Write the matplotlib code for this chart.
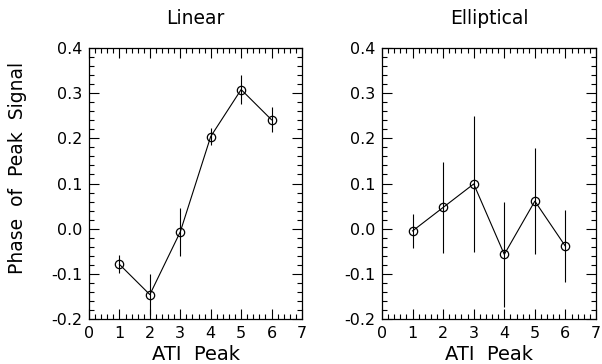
import matplotlib
matplotlib.use("Agg")
import matplotlib.pyplot as plt
from matplotlib.ticker import MultipleLocator, FormatStrFormatter

peaks = [1, 2, 3, 4, 5, 6]
linear_phase = [-0.079, -0.146, -0.007, 0.204, 0.308, 0.241]
linear_err = [0.020, 0.045, 0.053, 0.019, 0.032, 0.028]
elliptical_phase = [-0.005, 0.047, 0.099, -0.057, 0.061, -0.039]
elliptical_err = [0.037, 0.100, 0.150, 0.117, 0.117, 0.080]
titles = ["Linear", "Elliptical"]
xticks = [0, 1, 2, 3, 4, 5, 6, 7]

plt.rcParams['font.family'] = ['DejaVu Sans']
fig = plt.figure(figsize=(6.02, 3.64), dpi=100)
ax1 = fig.add_axes([89/602, 1-319/364, 213/602, 271/364])
ax2 = fig.add_axes([382/602, 1-319/364, 214/602, 271/364])

for ax, title, y, e in [(ax1, titles[0], linear_phase, linear_err),
                        (ax2, titles[1], elliptical_phase, elliptical_err)]:
    ax.errorbar(peaks, y, yerr=e, color='black', lw=0.8, elinewidth=0.8,
                marker='o', markersize=6, mfc='none', mec='black', mew=0.9,
                capsize=0)
    ax.set_xlim(0, 7)
    ax.set_ylim(-0.2, 0.4)
    ax.set_xticks(xticks)
    ax.xaxis.set_minor_locator(MultipleLocator(0.2))
    ax.yaxis.set_major_locator(MultipleLocator(0.1))
    ax.yaxis.set_minor_locator(MultipleLocator(0.02))
    ax.yaxis.set_major_formatter(FormatStrFormatter('%.1f'))
    ax.tick_params(which='both', direction='in', top=True, right=True,
                   width=0.8, labelsize=11.5)
    ax.tick_params(which='major', length=7, pad=5)
    ax.tick_params(which='minor', length=3.5)
    for s in ax.spines.values():
        s.set_linewidth(0.9)
    ax.set_title(title, fontsize=13.5, pad=17, color='black')
    ax.set_xlabel("ATI  Peak", fontsize=14, labelpad=3)

ax1.set_ylabel("Phase  of  Peak  Signal", fontsize=13.5)
ax1.yaxis.set_label_coords(-0.29, 0.557)
fig.savefig("out.png", dpi=100)
